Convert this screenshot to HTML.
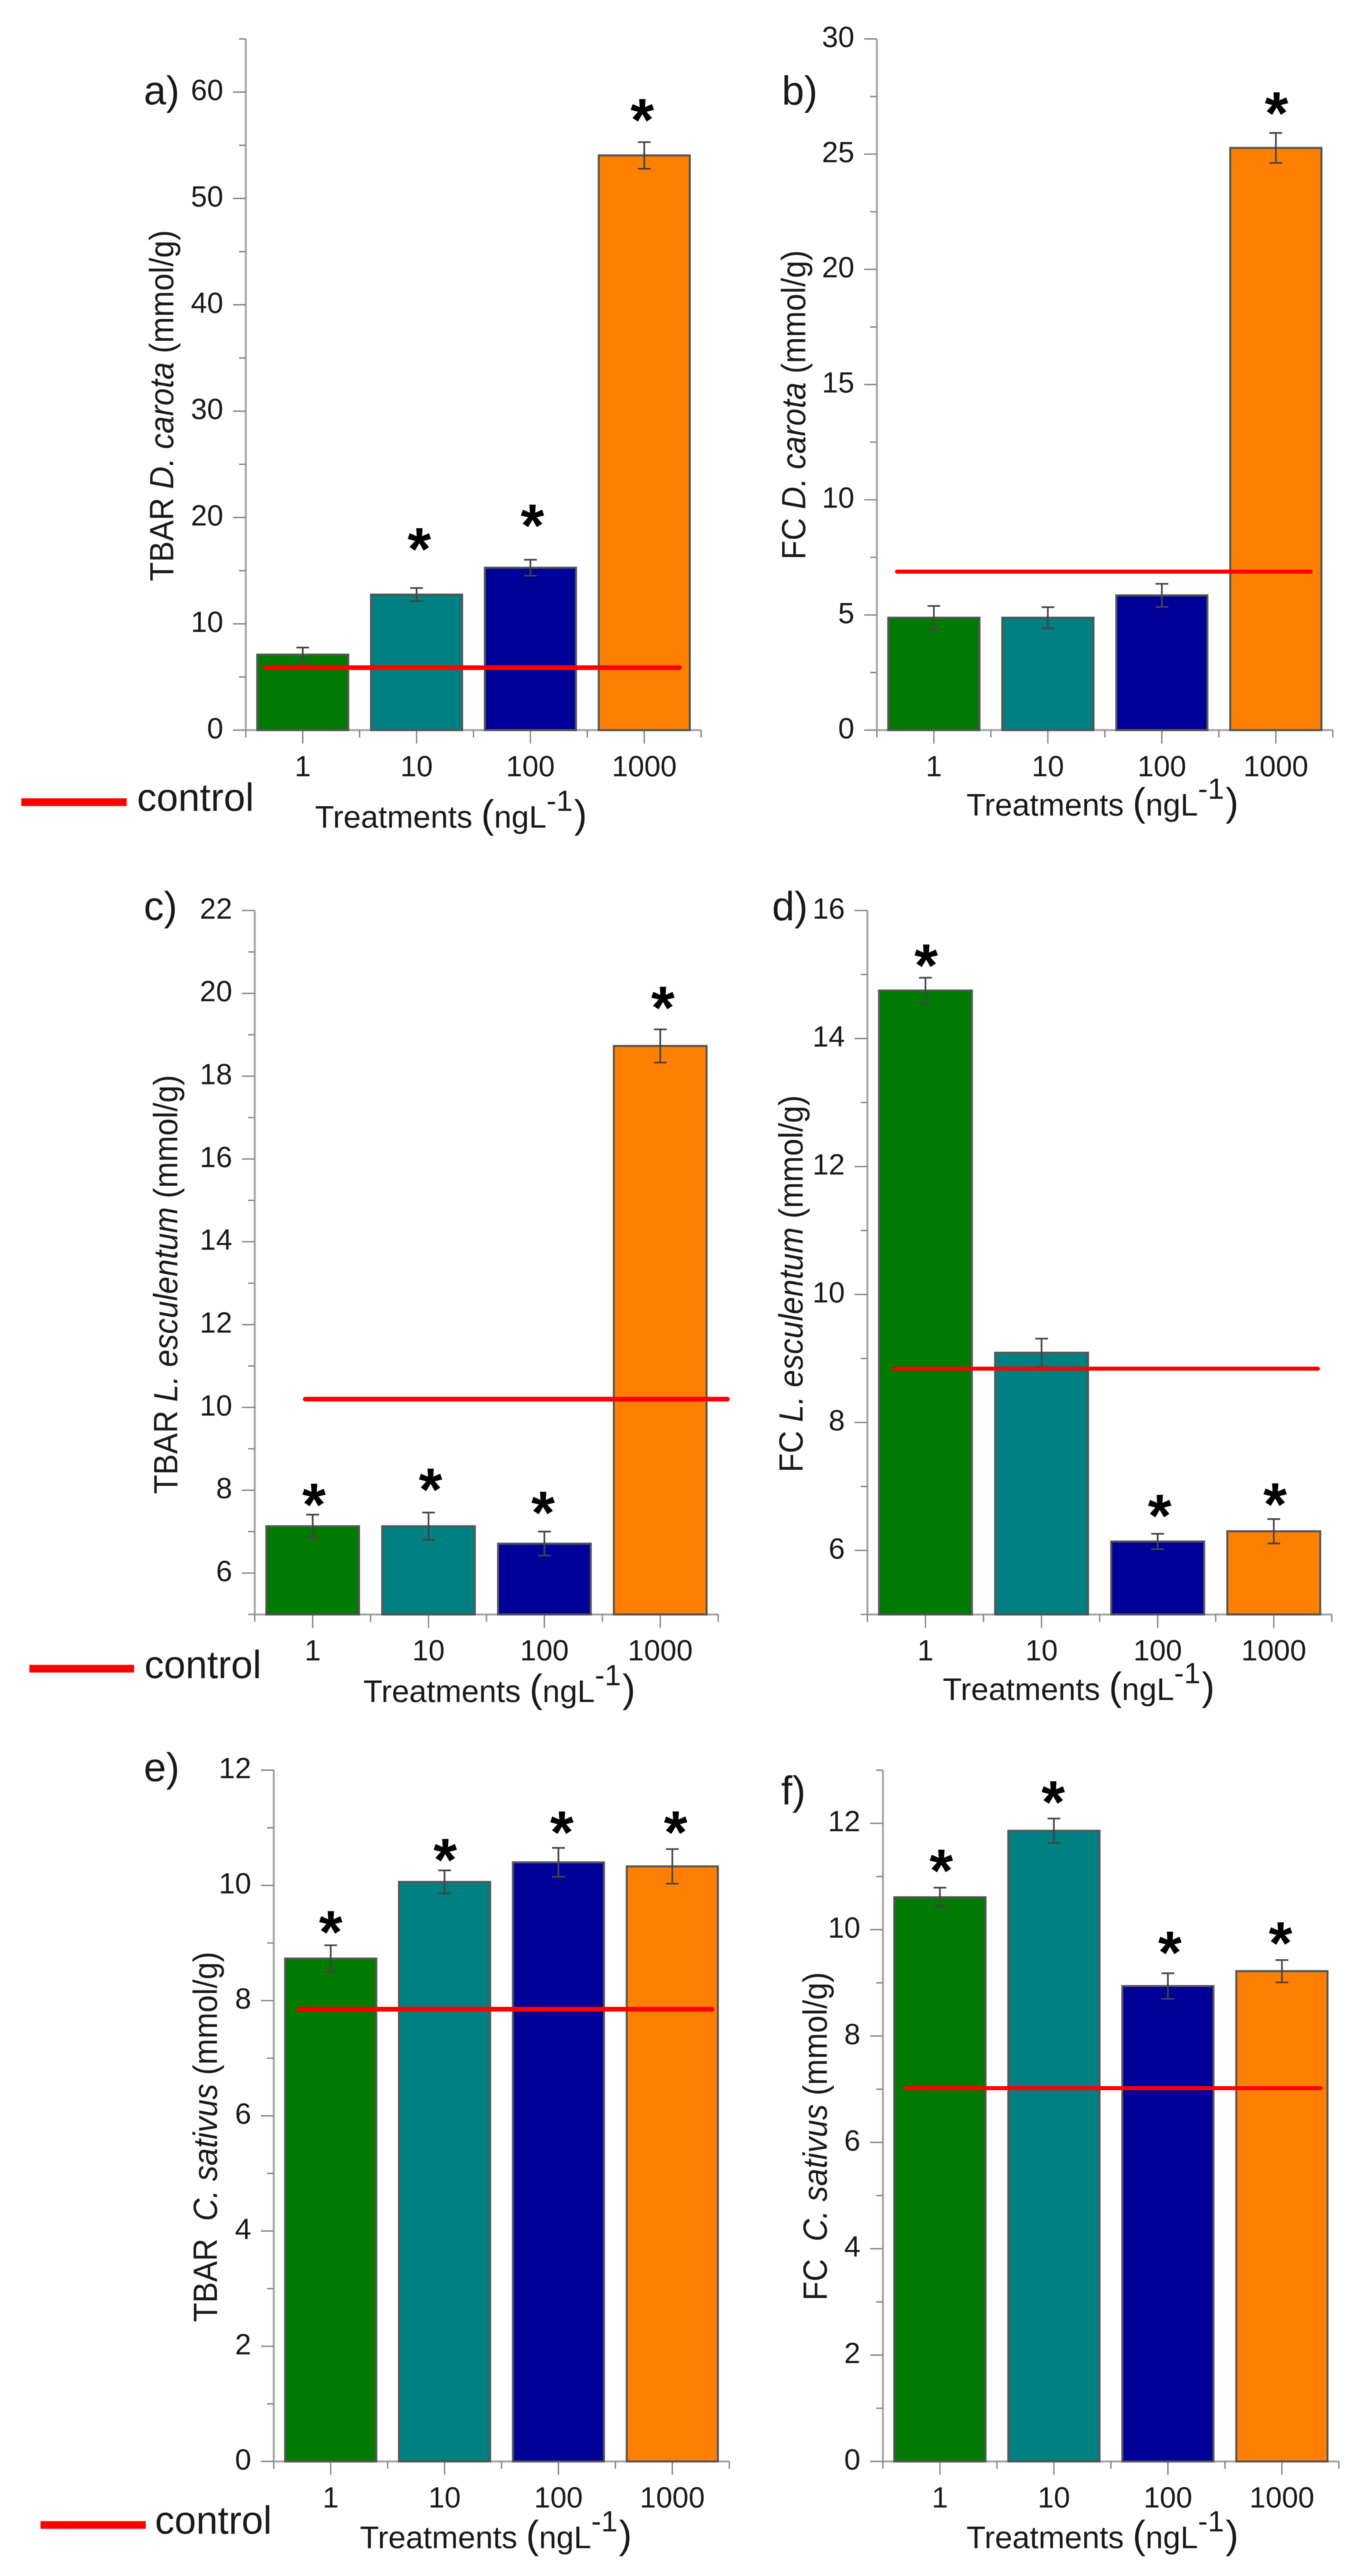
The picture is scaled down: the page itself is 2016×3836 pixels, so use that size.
<!DOCTYPE html>
<html lang="en">
<head>
<meta charset="utf-8">
<title>TBAR and FC by treatment</title>
<style>
html,body{margin:0;padding:0;background:#fff;}
#figure{display:block;width:2016px;height:3836px;filter:blur(0.6px);}
text{font-family:"Liberation Sans",sans-serif;fill:#1a1a1a;}
.ptl{font-size:60px;}
.ctl{font-size:58px;}
.ytl{font-size:46.6px;text-anchor:middle;}
.xtl{font-size:46.7px;}
.sup{font-size:44px;}
.par{font-size:58px;}
</style>
</head>
<body>
<svg id="figure" xmlns="http://www.w3.org/2000/svg" width="2016" height="3836" viewBox="0 0 2016 3836">
<rect x="0" y="0" width="2016" height="3836" fill="#ffffff"/>
<g id="plots"></g>

<text class="ptl" x="214" y="155.5">a)</text>
<text class="ptl" x="1164" y="155.5">b)</text>
<text class="ptl" x="214" y="1370">c)</text>
<text class="ptl" x="1149.5" y="1370">d)</text>
<text class="ptl" x="214" y="2652.5">e)</text>
<text class="ptl" x="1163" y="2687">f)</text>

<text class="ytl" transform="translate(258,604) rotate(-90) scale(1,1.08)">TBAR <tspan font-style="italic">D. carota</tspan> (mmol/g)</text>
<text class="ytl" transform="translate(1199,603) rotate(-90) scale(1,1.08)">FC <tspan font-style="italic">D. carota</tspan> (mmol/g)</text>
<text class="ytl" transform="translate(264,1912.7) rotate(-90) scale(1,1.08)">TBAR <tspan font-style="italic">L. esculentum</tspan> (mmol/g)</text>
<text class="ytl" transform="translate(1195,1911.8) rotate(-90) scale(1,1.08)">FC <tspan font-style="italic">L. esculentum</tspan> (mmol/g)</text>
<text class="ytl" xml:space="preserve" transform="translate(323,3182) rotate(-90) scale(1,1.08)">TBAR  <tspan font-style="italic">C. sativus</tspan> (mmol/g)</text>
<text class="ytl" xml:space="preserve" transform="translate(1231,3181.3) rotate(-90) scale(1,1.08)">FC  <tspan font-style="italic">C. sativus</tspan> (mmol/g)</text>

<text class="xtl" x="469" y="1232.7">Treatments <tspan class="par">(</tspan>ngL<tspan class="sup" dy="-25">-1</tspan><tspan class="par" dy="25" dx="2">)</tspan></text>
<text class="xtl" x="1439" y="1214.7">Treatments <tspan class="par">(</tspan>ngL<tspan class="sup" dy="-25">-1</tspan><tspan class="par" dy="25" dx="2">)</tspan></text>
<text class="xtl" x="541" y="2534.7">Treatments <tspan class="par">(</tspan>ngL<tspan class="sup" dy="-25">-1</tspan><tspan class="par" dy="25" dx="2">)</tspan></text>
<text class="xtl" x="1403.6" y="2531.4">Treatments <tspan class="par">(</tspan>ngL<tspan class="sup" dy="-25">-1</tspan><tspan class="par" dy="25" dx="2">)</tspan></text>
<text class="xtl" x="535.8" y="3794.4">Treatments <tspan class="par">(</tspan>ngL<tspan class="sup" dy="-25">-1</tspan><tspan class="par" dy="25" dx="2">)</tspan></text>
<text class="xtl" x="1439" y="3794.4">Treatments <tspan class="par">(</tspan>ngL<tspan class="sup" dy="-25">-1</tspan><tspan class="par" dy="25" dx="2">)</tspan></text>

<g>
<line x1="31.7" x2="188.7" y1="1194.5" y2="1194.5" stroke="#ff0000" stroke-width="11.5"/>
<text class="ctl" x="204" y="1207.7">control</text>
</g>
<g>
<line x1="43.7" x2="199.7" y1="2484.9" y2="2484.9" stroke="#ff0000" stroke-width="11.5"/>
<text class="ctl" x="215" y="2499">control</text>
</g>
<g>
<line x1="60.4" x2="217" y1="3760" y2="3760" stroke="#ff0000" stroke-width="11.5"/>
<text class="ctl" x="230.7" y="3773">control</text>
</g>
</svg>

<script>
// ---- data ----
const categories = ['1', '10', '100', '1000'];

const valuesA = [7.1, 12.75, 15.28, 54.05];
const errorsA = [0.67, 0.62, 0.75, 1.25];
const controlA = [5.88];
const starLevelsA = [null, 17.73, 19.95, 58.1];
const yTicksA = [0, 10, 20, 30, 40, 50, 60];

const valuesB = [4.88, 4.88, 5.85, 25.27];
const errorsB = [0.51, 0.46, 0.5, 0.65];
const controlB = [6.88];
const starLevelsB = [null, null, null, 27.1];
const yTicksB = [0, 5, 10, 15, 20, 25, 30];

const valuesC = [7.13, 7.13, 6.71, 18.73];
const errorsC = [0.28, 0.33, 0.29, 0.4];
const controlC = [10.2];
const starLevelsC = [7.83, 8.2, 7.64, 19.83];
const yTicksC = [6, 8, 10, 12, 14, 16, 18, 20, 22];

const valuesD = [14.75, 9.09, 6.14, 6.3];
const errorsD = [0.2, 0.22, 0.12, 0.19];
const controlD = [8.84];
const starLevelsD = [15.26, null, 6.66, 6.84];
const yTicksD = [6, 8, 10, 12, 14, 16];

const valuesE = [8.73, 10.06, 10.4, 10.33];
const errorsE = [0.23, 0.2, 0.25, 0.3];
const controlE = [7.85];
const starLevelsE = [9.32, 10.57, 11.05, 11.05];
const yTicksE = [0, 2, 4, 6, 8, 10, 12];

const valuesF = [10.61, 11.86, 8.94, 9.22];
const errorsF = [0.18, 0.23, 0.24, 0.21];
const controlF = [7.02];
const starLevelsF = [11.25, 12.54, 9.71, 9.89];
const yTicksF = [0, 2, 4, 6, 8, 10, 12];

const barColors = ['#007a00', '#008080', '#000099', '#ff8000'];

// ---- layout ----
const panels = [
  {id:'a', values:valuesA, errors:errorsA, control:controlA, stars:starLevelsA, yTicks:yTicksA,
   left:366, right:1044, top:58, base:1087.3, yMin:0, yMax:65, minor:5, span:[0.67, 4.31], lw:7, starDx:[0, 4, 3, -3]},
  {id:'b', values:valuesB, errors:errorsB, control:controlB, stars:starLevelsB, yTicks:yTicksB,
   left:1305.6, right:1984.5, top:58, base:1087.3, yMin:0, yMax:30, minor:2.5, span:[0.677, 4.307], lw:6, starDx:[0, 0, 0, 1]},
  {id:'c', values:valuesC, errors:errorsC, control:controlC, stars:starLevelsC, yTicks:yTicksC,
   left:379.3, right:1069.3, top:1355.9, base:2404.1, yMin:5, yMax:22, minor:1, span:[0.936, 4.58], lw:7, starDx:[2, 3, -2, 4]},
  {id:'d', values:valuesD, errors:errorsD, control:controlD, stars:starLevelsD, yTicks:yTicksD,
   left:1291.5, right:1983, top:1355.9, base:2404.1, yMin:5, yMax:16, minor:1, span:[0.73, 4.38], lw:6, starDx:[1, 0, 3, 2]},
  {id:'e', values:valuesE, errors:errorsE, control:controlE, stars:starLevelsE, yTicks:yTicksE,
   left:407.6, right:1085.8, top:2636, base:3665.4, yMin:0, yMax:12, minor:1, span:[0.72, 4.35], lw:7, starDx:[0, 1, 5, 5]},
  {id:'f', values:valuesF, errors:errorsF, control:controlF, stars:starLevelsF, yTicks:yTicksF,
   left:1314.6, right:1993.5, top:2636, base:3665.4, yMin:0, yMax:13, minor:1, span:[0.70, 4.34], lw:6, starDx:[2, -1, 3, -2]}
];

const NS = 'http://www.w3.org/2000/svg';
const AXIS = '#a6a6a6';
const TICK = '#858585';

function make(parent, tag, props, name) {
  const el = document.createElementNS(NS, tag);
  for (const k in props) el.setAttribute(k, props[k]);
  
  
  parent.appendChild(el);
  return el;
}
function label(parent, str, x, y, size, anchor, name, weight) {
  const t = make(parent, 'text', {
    x: x,
    y: y,
    'font-size': size,
    'text-anchor': anchor
  }, name);
  if (weight) t.setAttribute('font-weight', weight);
  t.textContent = str;
  return t;
}

const plots = document.getElementById('plots');

panels.forEach(function (p) {
  const g = make(plots, 'g', {}, 'panel-' + p.id);
  const xScale = function (c) { return p.left + (c - 0.5) * (p.right - p.left) / categories.length; };
  const yScale = function (v) { return p.base - (v - p.yMin) * (p.base - p.top) / (p.yMax - p.yMin); };
  const band = (p.right - p.left) / categories.length;

  // axes
  const axes = make(g, 'g', {stroke: TICK, 'stroke-width': 2, fill: 'none'}, 'axes-' + p.id);
  make(axes, 'line', {x1: p.left, x2: p.left, y1: p.top, y2: p.base, stroke: AXIS, 'stroke-width': 3}, 'y-axis-' + p.id);
  make(axes, 'line', {x1: p.left, x2: p.right, y1: p.base, y2: p.base, stroke: AXIS, 'stroke-width': 3}, 'x-axis-' + p.id);

  // y minor ticks
  for (let v = p.yMin; v <= p.yMax + 1e-6; v += p.minor) {
    if (p.yTicks.indexOf(v) >= 0) continue;
    make(axes, 'line', {x1: p.left - 10, x2: p.left, y1: yScale(v), y2: yScale(v)}, 'y-minor-tick-' + p.id);
  }
  // y major ticks and labels
  p.yTicks.forEach(function (v) {
    make(axes, 'line', {x1: p.left - 19, x2: p.left, y1: yScale(v), y2: yScale(v)}, 'y-tick-' + p.id + '-' + v);
    label(g, String(v), p.left - 33.5, yScale(v) + 12, 43.5, 'end', 'y-tick-label-' + p.id + '-' + v);
  });
  // x ticks
  for (let i = 0; i <= categories.length; i++) {
    const xm = xScale(i + 0.5);
    make(axes, 'line', {x1: xm, x2: xm, y1: p.base, y2: p.base + 11}, 'x-minor-tick-' + p.id);
  }
  categories.forEach(function (c, i) {
    const x = xScale(i + 1);
    make(axes, 'line', {x1: x, x2: x, y1: p.base, y2: p.base + 20}, 'x-tick-' + p.id + '-' + c);
    label(g, c, x, p.base + 68.5, 43.5, 'middle', 'x-tick-label-' + p.id + '-' + c);
  });

  // bars
  p.values.forEach(function (v, i) {
    const x = xScale(i + 1);
    const w = band * 0.8;
    make(g, 'rect', {
      x: x - w / 2, y: yScale(v), width: w, height: p.base - yScale(v),
      fill: barColors[i], stroke: '#555555', 'stroke-width': 3
    }, 'bar-' + p.id + '-' + categories[i]);
  });

  // error bars
  p.values.forEach(function (v, i) {
    const x = xScale(i + 1);
    const hi = yScale(v + p.errors[i]);
    const lo = yScale(v - p.errors[i]);
    const eb = make(g, 'g', {stroke: '#444444', 'stroke-width': 2.5}, 'error-bar-' + p.id + '-' + categories[i]);
    make(eb, 'line', {x1: x, x2: x, y1: hi, y2: lo}, 'error-stem');
    make(eb, 'line', {x1: x - 9.5, x2: x + 9.5, y1: hi, y2: hi}, 'error-cap-top');
    make(eb, 'line', {x1: x - 9.5, x2: x + 9.5, y1: lo, y2: lo}, 'error-cap-bottom');
  });

  // control line
  make(g, 'line', {
    x1: xScale(p.span[0]), x2: xScale(p.span[1]),
    y1: yScale(p.control[0]), y2: yScale(p.control[0]),
    stroke: '#ff0000', 'stroke-width': p.lw, 'stroke-linecap': 'round'
  }, 'control-line-' + p.id);

  // significance stars
  p.stars.forEach(function (s, i) {
    if (s === null) return;
    const t = label(g, '*', xScale(i + 1) + p.starDx[i], yScale(s) + 42, 90, 'middle', 'significance-star-' + p.id + '-' + categories[i], 'bold');
    t.style.fill = '#000000';
  });
});
</script>
</body>
</html>
